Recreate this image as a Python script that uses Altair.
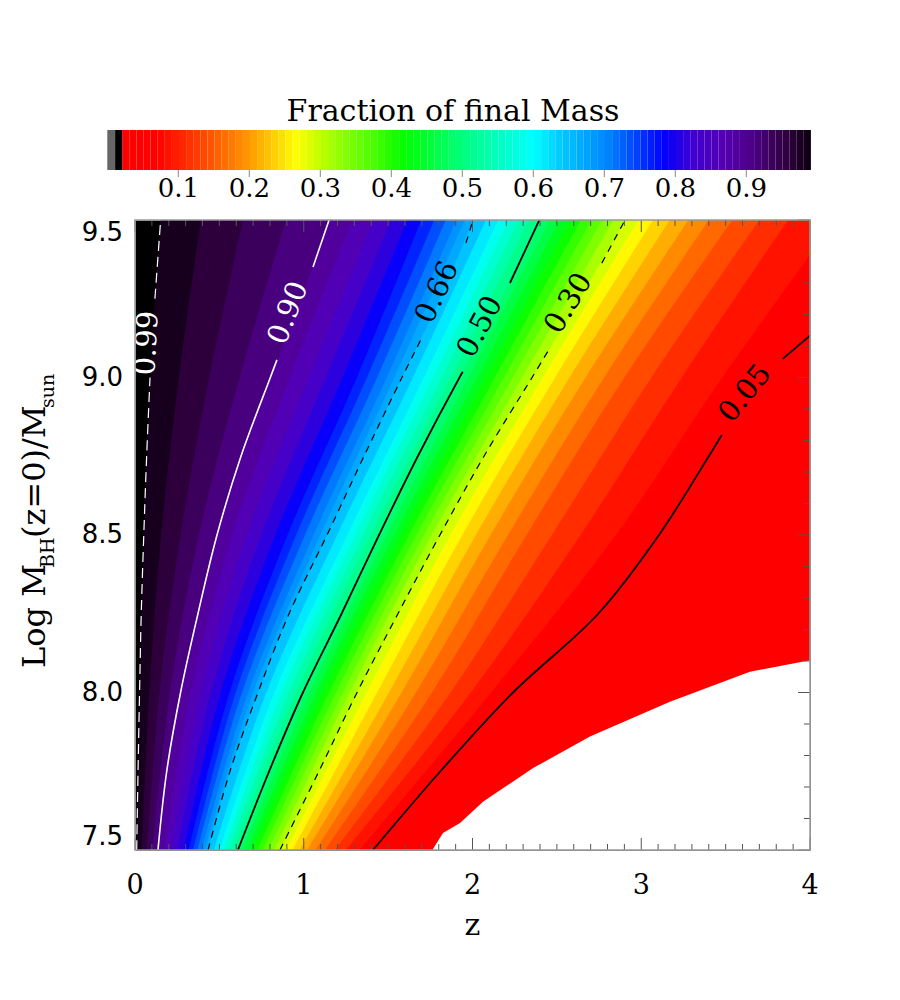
import altair as alt
import pandas as pd

# ---------------- data ----------------
# rows of Log M_BH(z=0)/M_sun at which contour positions (in z) were read
ROWS9 = [7.5, 7.75, 8.0, 8.25, 8.5, 8.75, 9.0, 9.25, 9.5]
ROWS5 = [7.5, 8.0, 8.5, 9.0, 9.5]
ROWS_005 = [7.5, 7.75, 8.0, 8.25, 8.5, 8.75, 9.0, 9.133]

# labelled contours: z position of the iso-line at each row
c099 = [0.010, 0.018, 0.027, 0.037, 0.052, 0.069, 0.089, 0.118, 0.152]
c090 = [0.136, 0.188, 0.270, 0.373, 0.486, 0.628, 0.802, 0.984, 1.150]
c066 = [0.433, 0.563, 0.729, 0.913, 1.138, 1.357, 1.582, 1.807, 2.003]
c050 = [0.610, 0.795, 0.995, 1.224, 1.446, 1.676, 1.923, 2.172, 2.396]
c030 = [0.859, 1.090, 1.316, 1.558, 1.807, 2.068, 2.353, 2.636, 2.904]
c005 = [1.410, 1.810, 2.240, 2.745, 3.105, 3.400, 3.751, 4.000]

# unlabelled colour levels (edges of the filled colour steps)
fill_levels = [0.97, 0.95, 0.925, 0.875, 0.85, 0.825, 0.80, 0.775, 0.75, 0.725, 0.70, 0.68,
               0.63, 0.60, 0.575, 0.55, 0.525, 0.475, 0.45, 0.425, 0.40, 0.375, 0.35, 0.325,
               0.275, 0.25, 0.225, 0.20, 0.175, 0.15, 0.125, 0.10, 0.075]
zf_75 = [0.040, 0.072, 0.104, 0.175, 0.212, 0.250, 0.288, 0.318, 0.345, 0.370, 0.394, 0.414,
         0.467, 0.501, 0.527, 0.554, 0.582, 0.638, 0.667, 0.696, 0.726, 0.758, 0.791, 0.825,
         0.896, 0.935, 0.976, 1.020, 1.070, 1.125, 1.185, 1.250, 1.330]
zf_80 = [0.085, 0.145, 0.207, 0.331, 0.391, 0.450, 0.508, 0.560, 0.597, 0.634, 0.671, 0.700,
         0.778, 0.826, 0.869, 0.912, 0.954, 1.033, 1.072, 1.111, 1.150, 1.191, 1.232, 1.273,
         1.373, 1.435, 1.505, 1.580, 1.665, 1.760, 1.870, 1.990, 2.110]
zf_85 = [0.155, 0.270, 0.378, 0.576, 0.662, 0.748, 0.831, 0.904, 0.955, 1.007, 1.058, 1.098,
         1.198, 1.258, 1.305, 1.352, 1.399, 1.491, 1.535, 1.580, 1.624, 1.668, 1.713, 1.758,
         1.870, 1.940, 2.020, 2.107, 2.210, 2.320, 2.470, 2.640, 2.850]
zf_90 = [0.260, 0.440, 0.620, 0.918, 1.030, 1.130, 1.230, 1.315, 1.375, 1.435, 1.492, 1.537,
         1.647, 1.712, 1.766, 1.819, 1.871, 1.975, 2.027, 2.080, 2.133, 2.186, 2.239, 2.295,
         2.418, 2.490, 2.575, 2.670, 2.780, 2.900, 3.060, 3.240, 3.480]
zf_95 = [0.390, 0.640, 0.895, 1.290, 1.413, 1.518, 1.613, 1.696, 1.774, 1.842, 1.905, 1.955,
         2.080, 2.153, 2.214, 2.274, 2.335, 2.457, 2.518, 2.580, 2.643, 2.706, 2.769, 2.835,
         2.985, 3.070, 3.170, 3.280, 3.400, 3.540, 3.700, 3.870, 4.150]

# edge of the region without data (white, lower right)
blank_logm = [7.45, 7.503, 7.554, 7.586, 7.653, 7.760, 7.860, 7.971, 8.066, 8.102]
blank_z = [1.766, 1.766, 1.825, 1.926, 2.062, 2.359, 2.696, 3.170, 3.644, 4.0]

# drawn contour lines: two pieces each, broken where the label sits
line_099 = {"a": (ROWS9[:7], c099[:7]), "b": (ROWS9[7:], c099[7:])}
line_090 = {"a": (ROWS9[:7] + [9.056], c090[:7] + [0.841]), "b": ([9.351, 9.5], [1.055, 1.150])}
line_066 = {"a": (ROWS9[:7] + [9.125], c066[:7] + [1.699]), "b": ([9.427, 9.5], [1.961, 2.003])}
line_050 = {"a": (ROWS9[:7] + [9.018], c050[:7] + [1.942]), "b": ([9.30, 9.5], [2.222, 2.396])}
line_030 = {"a": (ROWS9[:7] + [9.094], c030[:7] + [2.459]), "b": ([9.363, 9.5], [2.766, 2.904])}
line_005 = {"a": (ROWS_005[:6] + [8.817], c005[:6] + [3.477]), "b": ([9.059, 9.133], [3.838, 4.0])}

# contour labels
lbl_text = ["0.99", "0.90", "0.66", "0.50", "0.30", "0.05"]
lbl_z = [0.071, 0.907, 1.790, 2.044, 2.568, 3.615]
lbl_logm = [9.109, 9.205, 9.271, 9.161, 9.236, 8.950]
lbl_angle = [273, 291, 295, 298, 301, 309]

# axes
x_major = [0, 1, 2, 3, 4]
x_labels = ["0", "1", "2", "3", "4"]
x_minor = [round(0.1 * i, 1) for i in range(41) if i % 10 != 0]
y_major = [7.5, 8.0, 8.5, 9.0, 9.5]
y_labels = ["7.5", "8.0", "8.5", "9.0", "9.5"]
y_minor = [round(7.5 + 0.1 * i, 1) for i in range(21) if i % 5 != 0]

# colour bar
cb_ticks = [0.1, 0.2, 0.3, 0.4, 0.5, 0.6, 0.7, 0.8, 0.9]
cb_labels = ["0.1", "0.2", "0.3", "0.4", "0.5", "0.6", "0.7", "0.8", "0.9"]
cb_stop_v = [0.0, 0.07, 0.10, 0.13, 0.163, 0.20, 0.233, 0.267, 0.30, 0.332, 0.38, 0.42,
             0.48, 0.54, 0.60, 0.637, 0.708, 0.783, 0.825, 0.87, 0.90, 0.957, 1.0]
cb_stop_c = ["#ff0000", "#ff0000", "#ff2000", "#ff4000", "#ff6a00", "#ff9a00", "#ffcc00",
             "#ffff00", "#c0ff00", "#88ff00", "#40ff00", "#00ff00", "#00ff60", "#00ffb0",
             "#00ffff", "#00ccff", "#0080ff", "#0000ff", "#4000d0", "#5500b0", "#500090",
             "#300040", "#000000"]

# ---------------- chart ----------------
W, H = 675, 630
SERIF = "DejaVu Serif"
SANS = "DejaVu Sans"
TICK = "#555555"

xs = alt.Scale(domain=[0, 4], nice=False, zero=False)
ys = alt.Scale(domain=[7.5, 9.5], nice=False, zero=False)
cbx = alt.Scale(domain=[0, 1], range=[-27.7, 682.3], nice=False, zero=False)
cscale = alt.Scale(domain=cb_stop_v, range=cb_stop_c, interpolate="rgb")

one = pd.DataFrame({"a": [0]})

X = lambda f: alt.X(f, scale=xs, axis=None)
Y = lambda f: alt.Y(f, scale=ys, axis=None)

# all iso-levels, highest first
curves = [(0.99, ROWS9, c099), (0.90, ROWS9, c090), (0.66, ROWS9, c066),
          (0.50, ROWS9, c050), (0.30, ROWS9, c030), (0.05, ROWS_005, c005)]
for k, lev in enumerate(fill_levels):
    curves.append((lev, ROWS5, [zf_75[k], zf_80[k], zf_85[k], zf_90[k], zf_95[k]]))
curves.sort(key=lambda c: -c[0])

layers = []
for i, (lev, rows, zs) in enumerate(curves):
    nxt = curves[i + 1][0] if i + 1 < len(curves) else 0.01
    mid = (lev + nxt) / 2
    df = pd.DataFrame({"logm": rows, "z": zs, "mid": [mid] * len(rows)})
    layers.append(
        alt.Chart(df).mark_area(orient="horizontal", interpolate="catmull-rom", clip=True).encode(
            y=Y("logm:Q"), x=X("z:Q"), x2=alt.datum(4.0),
            color=alt.Color("mid:Q", scale=cscale, legend=None),
        )
    )

# region without data
blank = pd.DataFrame({"logm": blank_logm, "z": blank_z})
layers.append(
    alt.Chart(blank).mark_area(orient="horizontal", color="white", clip=True).encode(
        y=Y("logm:Q"), x=X("z:Q"), x2=alt.datum(4.0))
)


def contour(pieces, color, width, dash=None):
    recs = []
    for seg, (rows, zs) in pieces.items():
        for r, z in zip(rows, zs):
            recs.append({"logm": r, "z": z, "seg": seg})
    kw = dict(color=color, strokeWidth=width, interpolate="catmull-rom", clip=True)
    if dash:
        kw["strokeDash"] = dash
    return alt.Chart(pd.DataFrame(recs)).mark_line(**kw).encode(
        y=Y("logm:Q"), x=X("z:Q"), detail="seg:N", order="logm:Q")


layers += [
    contour(line_099, "white", 1.2, [10, 6]),
    contour(line_090, "white", 1.6),
    contour(line_066, "black", 1.2, [7, 6]),
    contour(line_050, "black", 1.8),
    contour(line_030, "black", 1.2, [7, 6]),
    contour(line_005, "black", 1.8),
]

lbl = pd.DataFrame({"t": lbl_text, "z": lbl_z, "logm": lbl_logm, "ang": lbl_angle})
for cols, colr in ((["0.99", "0.90"], "white"), (["0.66", "0.50", "0.30", "0.05"], "black")):
    layers.append(
        alt.Chart(lbl[lbl["t"].isin(cols)]).mark_text(
            font=SERIF, fontSize=29, align="center", baseline="middle", color=colr
        ).encode(x=X("z:Q"), y=Y("logm:Q"), text="t:N", angle=alt.Angle("ang:Q", scale=None))
    )

# inward ticks: bottom, top, right
for vals, ln in ((x_major, 12), (x_minor, 6)):
    d = pd.DataFrame({"v": vals})
    layers.append(alt.Chart(d).mark_rule(color=TICK, strokeWidth=1).encode(
        x=X("v:Q"), y=alt.value(H), y2=alt.value(H - ln)))
    layers.append(alt.Chart(d).mark_rule(color=TICK, strokeWidth=1).encode(
        x=X("v:Q"), y=alt.value(0), y2=alt.value(ln)))
for vals, ln in ((y_major, 12), (y_minor, 6)):
    d = pd.DataFrame({"v": vals})
    layers.append(alt.Chart(d).mark_rule(color=TICK, strokeWidth=1).encode(
        y=Y("v:Q"), x=alt.value(W), x2=alt.value(W - ln)))

# frame
layers.append(alt.Chart(one).mark_rect(filled=False, stroke="#9a9a9a", strokeWidth=1.5).encode(
    x=alt.value(0), x2=alt.value(W), y=alt.value(0), y2=alt.value(H)))

# tick labels and x title
xl = pd.DataFrame({"v": x_major, "t": x_labels})
layers.append(alt.Chart(xl).mark_text(font=SERIF, fontSize=27, baseline="middle", color="black").encode(
    x=X("v:Q"), y=alt.value(H + 36), text="t:N"))
layers.append(alt.Chart(one).mark_text(text="z", font=SERIF, fontSize=30, baseline="middle",
                                       color="black").encode(x=alt.value(W / 2), y=alt.value(H + 76)))
yl = pd.DataFrame({"v": y_major, "t": y_labels})
for sel, base in ((yl["v"] == 9.5, "top"), (yl["v"] == 7.5, "bottom"),
                  ((yl["v"] > 7.5) & (yl["v"] < 9.5), "middle")):
    layers.append(alt.Chart(yl[sel]).mark_text(font=SANS, fontSize=26, align="right", baseline=base,
                                               color="black").encode(
        y=Y("v:Q"), x=alt.value(-12), text="t:N"))

plot = alt.layer(*layers)

# ---------------- colour bar ----------------
cb_lo = [round(0.021 + 0.01 * j, 3) for j in range(97)]
cbd = pd.DataFrame({"lo": cb_lo, "hi": [v + 0.01 for v in cb_lo], "mid": [v + 0.005 for v in cb_lo]})
cb_rects = alt.Chart(cbd).mark_rect().encode(
    x=alt.X("lo:Q", scale=cbx, axis=None), x2="hi:Q",
    y=alt.value(-90), y2=alt.value(-50),
    color=alt.Color("mid:Q", scale=cscale, legend=None),
)
cb_low = pd.DataFrame({"lo": [0.0, 0.011], "hi": [0.011, 0.021], "c": ["#666666", "#000000"]})
cb_low_rects = alt.Chart(cb_low).mark_rect().encode(
    x=alt.X("lo:Q", scale=cbx, axis=None), x2="hi:Q",
    y=alt.value(-90), y2=alt.value(-50),
    fill=alt.Fill("c:N", scale=None),
)
cbt = pd.DataFrame({"v": cb_ticks, "lab": cb_labels})
cb_tick_rules = alt.Chart(cbt).mark_rule(color="#888888").encode(
    x=alt.X("v:Q", scale=cbx, axis=None), y=alt.value(-50), y2=alt.value(-43))
cb_text = alt.Chart(cbt).mark_text(font=SERIF, fontSize=26, baseline="middle", color="black").encode(
    x=alt.X("v:Q", scale=cbx, axis=None), y=alt.value(-31), text="lab:N")
cb_title = alt.Chart(one).mark_text(text="Fraction of final Mass", font=SERIF, fontSize=30,
                                    baseline="middle", color="black").encode(
    x=alt.value(318), y=alt.value(-108))
cbar = alt.layer(cb_rects, cb_low_rects, cb_tick_rules, cb_text, cb_title)

# ---------------- y title with subscripts ----------------
def ypart(txt, size, x, y):
    return alt.Chart(one).mark_text(text=txt, font=SERIF, fontSize=size, angle=270, align="left",
                                    baseline="alphabetic", color="black").encode(
        x=alt.value(x), y=alt.value(y))


yt = [ypart("Log M", 32, -90, 448), ypart("BH", 19, -81, 348),
      ypart("(z=0)/M", 32, -90, 318), ypart("sun", 19, -81, 188)]

chart = alt.layer(plot, cbar, *yt).resolve_scale(x="independent").properties(
    width=W, height=H,
    autosize=alt.AutoSizeParams(type="none"),
    padding={"left": 127, "top": 212, "right": 60, "bottom": 140},
).configure_view(fill="black", stroke="transparent")

chart.save("out.html", embed_options={"renderer": "svg", "actions": False})
